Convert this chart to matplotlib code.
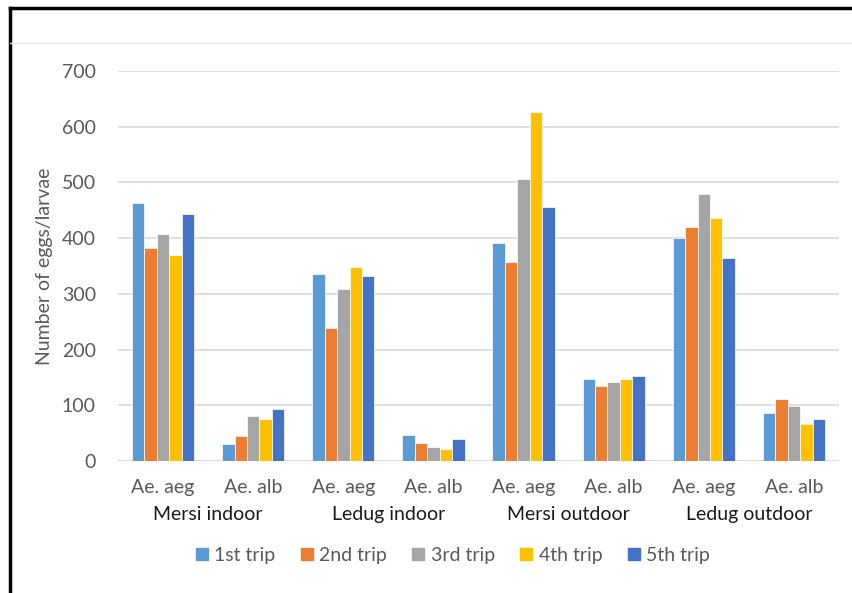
import matplotlib; matplotlib.use('Agg')
import matplotlib.pyplot as plt
import numpy as np
from matplotlib.lines import Line2D

plt.rcParams['font.family'] = ['Lato', 'DejaVu Sans']

categories = ['Ae. aeg', 'Ae. alb'] * 4
groups = ['Mersi indoor', 'Ledug indoor', 'Mersi outdoor', 'Ledug outdoor']
trips = ['1st trip', '2nd trip', '3rd trip', '4th trip', '5th trip']
colors = ['#5B9BD5', '#ED7D31', '#A5A5A5', '#FFC000', '#4472C4']

trip1 = [463, 30, 335, 46, 392, 148, 400, 86]
trip2 = [382, 45, 239, 33, 357, 134, 420, 112]
trip3 = [408, 80, 308, 26, 507, 141, 479, 98]
trip4 = [370, 76, 348, 22, 627, 148, 436, 66]
trip5 = [444, 94, 332, 39, 456, 153, 364, 76]
series = [trip1, trip2, trip3, trip4, trip5]

fs = 14

fig = plt.figure(figsize=(8.53, 5.93), dpi=100)
fig.patch.set_facecolor('white')
ax = fig.add_axes([118/853, 1-461/593, (839-118)/853, (461-71)/593])

x = np.arange(len(categories))
w = 0.138
for i, (vals, c) in enumerate(zip(series, colors)):
    ax.bar(x + (i-2)*w, vals, width=w, color=c, edgecolor='white',
           linewidth=0.5, zorder=3, label=trips[i])

ax.set_xlim(-0.5, 7.5)
ax.set_ylim(0, 700)
ax.set_yticks(range(0, 701, 100))
ax.yaxis.grid(True, color='#D9D9D9', linewidth=1.2, zorder=0)
ax.set_axisbelow(True)
ax.spines[['top', 'right', 'left', 'bottom']].set_visible(False)
ax.axhline(0, color='#D9D9D9', linewidth=1.2, zorder=1)
ax.tick_params(axis='both', length=0, labelsize=fs, colors='#595959')
ax.tick_params(axis='y', pad=16)
ax.tick_params(axis='x', pad=13)
ax.set_xticks(x)
ax.set_xticklabels(categories)
ax.set_ylabel('Number of eggs/larvae', fontsize=fs, color='#595959', labelpad=6)

for g, name in enumerate(groups):
    ax.text(2*g + 0.5, -0.138, name, transform=ax.get_xaxis_transform(),
            ha='center', va='center', fontsize=fs, color='#1A1A1A')

handles = [Line2D([0], [0], marker='s', linestyle='none', markersize=8,
                  markerfacecolor=c, markeredgecolor=c) for c in colors]
fig.legend(handles, trips, loc='center', bbox_to_anchor=(453/853, 1-555/593),
           ncol=5, frameon=False, fontsize=fs, labelcolor='#595959',
           handlelength=0.6, handletextpad=0.35, columnspacing=1.3)

# outer frame and header separator
fig.add_artist(Line2D([10/853, 10/853], [0, 1-8/593], color='black', linewidth=2.5))
fig.add_artist(Line2D([10/853, 1], [1-8/593, 1-8/593], color='black', linewidth=2.5))
fig.add_artist(Line2D([10/853, 1], [1-43/593, 1-43/593], color='#E6E6E6', linewidth=1))

plt.savefig('out.png', dpi=100, facecolor='white')
